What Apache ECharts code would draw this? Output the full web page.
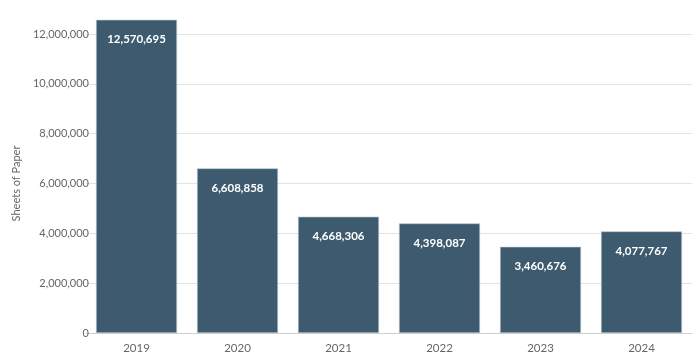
<!DOCTYPE html>
<html><head><meta charset="utf-8">
<script src="https://cdn.jsdelivr.net/npm/echarts@6/dist/echarts.min.js"></script>
<style>html,body{margin:0;padding:0;background:#fff}#c{width:700px;height:362px}</style>
</head><body><div id="c"></div>
<script>
const categories = ['2019','2020','2021','2022','2023','2024'];
const sheets = [12570695, 6608858, 4668306, 4398087, 3460676, 4077767];
const yTicks = [0, 2000000, 4000000, 6000000, 8000000, 10000000, 12000000];

const chart = echarts.init(document.getElementById('c'), null, {renderer:'canvas'});
const fmt = v => Number(v).toLocaleString('en-US');
chart.setOption({
  animation:false,
  textStyle:{fontFamily:'Lato'},
  grid:{left:86, right:8, top:34, bottom:29},
  xAxis:{
    type:'category', data:categories,
    axisLine:{lineStyle:{color:'#cfcfcf'}},
    axisTick:{show:false},
    axisLabel:{color:'#666', fontSize:11.5, margin:9, fontFamily:'Lato'}
  },
  yAxis:{
    type:'value', min:yTicks[0], max:yTicks[yTicks.length-1], interval:2000000,
    name:'Sheets of Paper', nameLocation:'middle', nameGap:52, nameRotate:90,
    nameTextStyle:{color:'#666', fontSize:11, fontFamily:'Lato'},
    axisLine:{show:false}, axisTick:{show:false},
    axisLabel:{color:'#666', fontSize:11, margin:-3, formatter:fmt, fontFamily:'Lato'},
    splitLine:{lineStyle:{color:'#e3e3e3'}}
  },
  series:[{
    type:'bar', data:sheets, clip:false,
    barWidth:81,
    itemStyle:{color:'#3d5a6e', borderColor:'#b9c7d2', borderWidth:0.6},
    label:{show:true, position:'insideTop', distance:14, color:'#fff', fontWeight:'bold', fontSize:11.5, fontFamily:'Lato', formatter:p=>fmt(p.value)}
  }]
});
</script></body></html>
